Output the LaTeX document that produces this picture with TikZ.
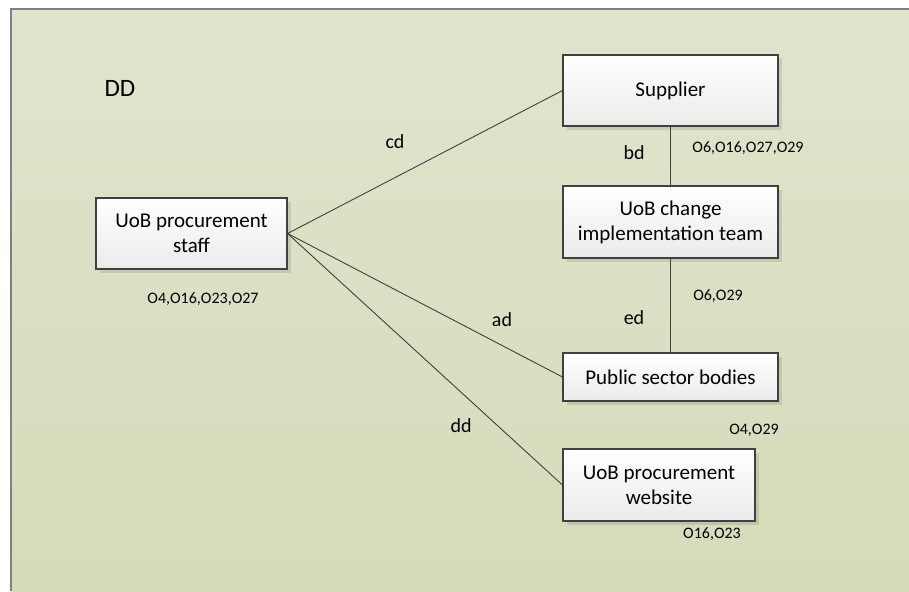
\documentclass[tikz,border=0pt]{standalone}
\usepackage{fontspec}
\setmainfont{Carlito}
\usetikzlibrary{shadows}
\definecolor{panelTop}{RGB}{224,228,205}
\definecolor{panelBot}{RGB}{212,220,185}
\definecolor{edgeGray}{RGB}{64,64,64}
\definecolor{frameGray}{RGB}{128,128,128}
\tikzset{
	actor/.style={draw=edgeGray, line width=1.1pt, top color=white, bottom color=black!8, align=center, inner sep=0pt, font=\fontsize{21}{25}\selectfont, drop shadow={shadow xshift=3.5pt, shadow yshift=-3.5pt, fill=black, opacity=0.1}},
	link/.style={draw=edgeGray, line width=0.9pt},
	rel/.style={font=\fontsize{20}{24}\selectfont},
	objs/.style={font=\fontsize{16}{19}\selectfont},
}

\begin{document}
\begin{tikzpicture}[x=1pt,y=1pt]
		\useasboundingbox (0,0) rectangle (909,-591);
		\shade[top color=panelTop, bottom color=panelBot] (11,-9) rectangle (909,-591);
		\draw[frameGray, line width=1.5pt] (909,-9) -- (11,-9) -- (11,-591);
		\node[font=\fontsize{25}{30}\selectfont](title) at (120,-88) {DD};
		\node[actor, minimum width=191pt, minimum height=71pt](staff) at (191.5,-233.5) {UoB procurement\\staff};
		\node[actor, minimum width=215pt, minimum height=71pt](supplier) at (670.5,-90.5) {Supplier};
		\node[actor, minimum width=215pt, minimum height=72pt](change) at (670.5,-222) {UoB change\\implementation team};
		\node[actor, minimum width=215pt, minimum height=48pt](public) at (670.5,-377) {Public sector bodies};
		\node[actor, minimum width=192pt, minimum height=72pt](website) at (659,-485) {UoB procurement\\website};
		\draw[link] (staff.east) -- (supplier.west);
		\draw[link] (staff.east) -- (public.west);
		\draw[link] (staff.east) -- (website.west);
		\draw[link] (supplier) -- (change);
		\draw[link] (change) -- (public);
		\node[rel](cd) at (395,-142) {cd};
		\node[rel](bd) at (634,-153) {bd};
		\node[rel](ed) at (634,-318) {ed};
		\node[rel](ad) at (502,-320) {ad};
		\node[rel](dd) at (461,-426) {dd};
		\node[objs](staffobj) at (203,-299) {O4,O16,O23,O27};
		\node[objs](supplierobj) at (748,-148) {O6,O16,O27,O29};
		\node[objs](changeobj) at (718,-296) {O6,O29};
		\node[objs](publicobj) at (754,-430) {O4,O29};
		\node[objs](websiteobj) at (712,-534) {O16,O23};
	\end{tikzpicture}
\end{document}
